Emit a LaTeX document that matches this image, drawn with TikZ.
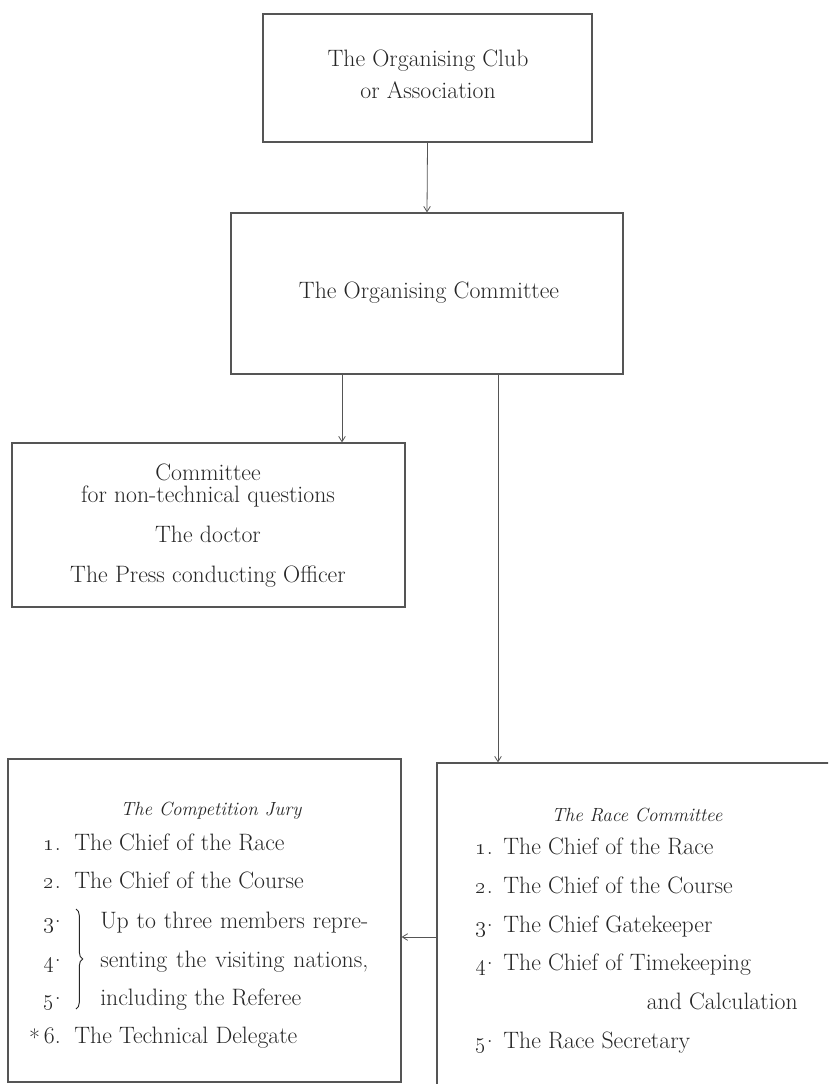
\documentclass[tikz,border=0pt]{standalone}
\usetikzlibrary{arrows.meta,decorations.pathreplacing}
\definecolor{ink}{HTML}{262626}
\definecolor{rule}{HTML}{555555}
\newcommand{\mdot}{\raisebox{0.22em}{.}}
\begin{document}
\begin{tikzpicture}[x=0.75pt,y=-0.75pt,
  box/.style 2 args={draw=rule,line width=0.9pt,rectangle,inner sep=0pt,
     minimum width=#1*0.75pt,minimum height=#2*0.75pt},
  txt/.style={text=ink,inner sep=0pt,font=\fontsize{17.8}{21}\selectfont},
  itxt/.style={text=ink,inner sep=0pt,font=\fontsize{14.3}{17}\selectfont\itshape},
  arr/.style={draw=rule,line width=0.6pt,-{Straight Barb[length=4pt,width=5pt]}}]
\useasboundingbox (0,0) rectangle (828,1084);
\clip (0,0) rectangle (828,1084);
% boxes
\node[box={329}{128}] (club) at (427.5,78) {};
\node[box={392}{161}] (org) at (427,293.5) {};
\node[box={393}{164}] (ncom) at (208.5,525) {};
\node[box={393}{323}] (jury) at (204.5,920.5) {};
\node[box={403}{332}] (race) at (638.5,929) {};
% texts
\node[txt,anchor=base] (t1a) at (428,67) {The Organising Club};
\node[txt,anchor=base] (t1b) at (428,99) {or Association};
\node[txt,anchor=base] (t2) at (429,298) {The Organising Committee};
\node[txt,anchor=base] (t3a) at (208,480) {Committee};
\node[txt,anchor=base] (t3b) at (208,502) {for non-technical questions};
\node[txt,anchor=base] (t3c) at (208,542) {The doctor};
\node[txt,anchor=base] (t3d) at (208,582) {The Press conducting Officer};
% jury
\node[itxt,anchor=base] (jh) at (211,815) {The Competition Jury};
\node[txt,anchor=base east] (jn1) at (61,850) {\oldstylenums{1}.};
\node[txt,anchor=base west] (j1) at (74,850) {The Chief of the Race};
\node[txt,anchor=base east] (jn2) at (61,888) {\oldstylenums{2}.};
\node[txt,anchor=base west] (j2) at (74,888) {The Chief of the Course};
\node[txt,anchor=base east] (jn3) at (61,928) {\oldstylenums{3}\mdot};
\node[txt,anchor=base west] (j3) at (100,928) {\makebox[201pt][s]{Up to three members repre-}};
\node[txt,anchor=base east] (jn4) at (61,967) {\oldstylenums{4}\mdot};
\node[txt,anchor=base west] (j4) at (100,967) {\makebox[201pt][s]{senting the visiting nations,}};
\node[txt,anchor=base east] (jn5) at (61,1005) {\oldstylenums{5}\mdot};
\node[txt,anchor=base west] (j5) at (100,1005) {including the Referee};
\node[txt,anchor=base east] (jn6) at (61,1043) {\raisebox{-0.15em}{*}\,6.};
\node[txt,anchor=base west] (j6) at (74,1043) {The Technical Delegate};
\coordinate (bt) at (76,909);
\coordinate (bb) at (76,1009);
\draw[draw=ink,line width=0.7pt,decorate,decoration={brace,amplitude=5pt}] (bt) -- (bb);
% race committee
\node[itxt,anchor=base] (rh) at (637,821) {The Race Committee};
\node[txt,anchor=base east] (rn1) at (493,854) {\oldstylenums{1}.};
\node[txt,anchor=base west] (r1) at (503,854) {The Chief of the Race};
\node[txt,anchor=base east] (rn2) at (493,893) {\oldstylenums{2}.};
\node[txt,anchor=base west] (r2) at (503,893) {The Chief of the Course};
\node[txt,anchor=base east] (rn3) at (493,932) {\oldstylenums{3}\mdot};
\node[txt,anchor=base west] (r3) at (503,932) {The Chief Gatekeeper};
\node[txt,anchor=base east] (rn4) at (493,970) {\oldstylenums{4}\mdot};
\node[txt,anchor=base west] (r4) at (503,970) {The Chief of Timekeeping};
\node[txt,anchor=base east] (r4b) at (798,1009) {and Calculation};
\node[txt,anchor=base east] (rn5) at (493,1048) {\oldstylenums{5}\mdot};
\node[txt,anchor=base west] (r5) at (503,1048) {The Race Secretary};
% connectors
\coordinate (xl) at (342,0);
\coordinate (xr) at (498,0);
\coordinate (ym) at (0,937);
\draw[arr] (club.south) -- (org.north);
\draw[arr] (org.south -| xl) -- (ncom.north -| xl);
\draw[arr] (org.south -| xr) -- (race.north -| xr);
\draw[arr] (race.west |- ym) -- (jury.east |- ym);
\end{tikzpicture}
\end{document}
